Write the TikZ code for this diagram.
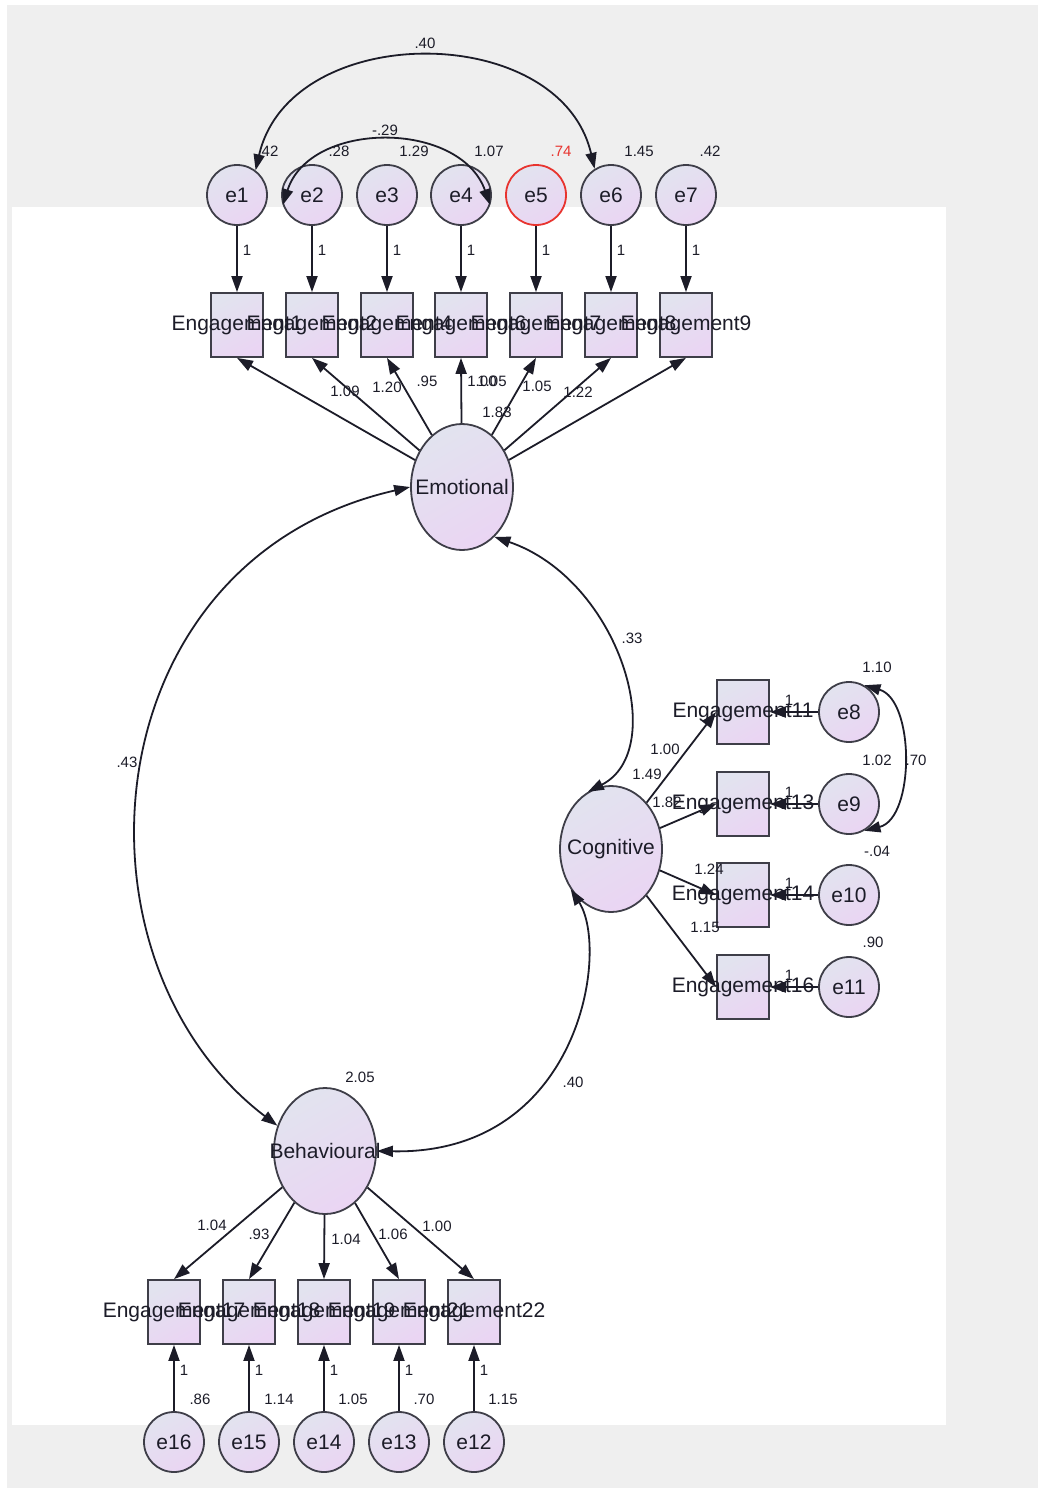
\documentclass[tikz,border=0pt]{standalone}
\usepackage{fontspec}
\setmainfont{Liberation Sans}
\usetikzlibrary{shapes.geometric,arrows.meta}
\definecolor{bgout}{HTML}{EFEFEF}
\definecolor{shA}{HTML}{E2E3EF}
\definecolor{shB}{HTML}{EAD5F3}
\definecolor{ink}{HTML}{1C1C28}
\definecolor{errred}{HTML}{E8342F}

\tikzset{
  shadedfill/.style={draw=ink!85, line width=0.9pt, top color=shA, bottom color=shB, shading angle=30},
  errc/.style={shadedfill, circle, minimum size=30pt, inner sep=0pt, font=\fontsize{10.5}{12}\selectfont, text=ink},
  obs/.style={shadedfill, rectangle, minimum width=26pt, minimum height=32pt, inner sep=0pt},
  lat/.style={shadedfill, ellipse, minimum width=51pt, minimum height=63pt, inner sep=0pt},
  txt/.style={font=\fontsize{10.5}{12}\selectfont, text=ink, inner sep=0pt},
  num/.style={font=\fontsize{7.5}{9}\selectfont, text=ink, inner sep=0pt},
  tip/.tip={Triangle[length=8pt,width=5.5pt]},
  arr/.style={draw=ink, line width=0.9pt, -tip},
  dbl/.style={draw=ink, line width=0.9pt, tip-tip},
}

\begin{document}
\begin{tikzpicture}[x=0.5pt,y=-0.5pt]
% canvas
\fill[white] (0,0) rectangle (1038,1488);
\fill[bgout] (7,5) rectangle (1038,1488);
\fill[white] (12,207) rectangle (946,1425);
\useasboundingbox (0,0) rectangle (1038,1488);

% ---- latent factors
\node[lat] (emo) at (462,487) {};
\node[lat] (cog) at (611,849) {};
\node[lat] (beh) at (325,1151) {};

% ---- emotional indicators and their errors
\foreach \i/\x in {1/237,2/312,3/387,4/461,5/536,6/611,7/686}{
  \node[obs] (t\i) at (\x,325) {};
}
\node[errc] (e1) at (237,195) {e1};
\node[errc] (e2) at (312,195) {e2};
\node[errc] (e3) at (387,195) {e3};
\node[errc] (e4) at (461,195) {e4};
\node[errc, draw=errred] (e5) at (536,195) {e5};
\node[errc] (e6) at (611,195) {e6};
\node[errc] (e7) at (686,195) {e7};

% ---- cognitive indicators and their errors
\foreach \i/\y in {1/712,2/804,3/895,4/987}{
  \node[obs] (r\i) at (743,\y) {};
}
\node[errc] (e8) at (849,712) {e8};
\node[errc] (e9) at (849,804) {e9};
\node[errc] (e10) at (849,895) {e10};
\node[errc] (e11) at (849,987) {e11};

% ---- behavioural indicators and their errors
\foreach \i/\x in {1/174,2/249,3/324,4/399,5/474}{
  \node[obs] (b\i) at (\x,1312) {};
}
\node[errc] (e16) at (174,1442) {e16};
\node[errc] (e15) at (249,1442) {e15};
\node[errc] (e14) at (324,1442) {e14};
\node[errc] (e13) at (399,1442) {e13};
\node[errc] (e12) at (474,1442) {e12};

% ---- factor names
\node[txt] (emoT) at (emo) {Emotional};
\node[txt] (cogT) at (cog) {Cognitive};
\node[txt] (behT) at (beh) {Behavioural};

% ---- indicator names
\node[txt] (tT1) at (t1) {Engagement1};
\node[txt] (tT2) at (t2) {Engagement2};
\node[txt] (tT3) at (t3) {Engagement4};
\node[txt] (tT4) at (t4) {Engagement6};
\node[txt] (tT5) at (t5) {Engagement7};
\node[txt] (tT6) at (t6) {Engagement8};
\node[txt] (tT7) at (t7) {Engagement9};
\node[txt] (rT1) at (r1) {Engagement11};
\node[txt] (rT2) at (r2) {Engagement13};
\node[txt] (rT3) at (r3) {Engagement14};
\node[txt] (rT4) at (r4) {Engagement16};
\node[txt] (bT1) at (b1) {Engagement17};
\node[txt] (bT2) at (b2) {Engagement18};
\node[txt] (bT3) at (b3) {Engagement19};
\node[txt] (bT4) at (b4) {Engagement21};
\node[txt] (bT5) at (b5) {Engagement22};

% ---- error paths (fixed at 1)
\foreach \i in {1,...,7}{
  \draw[arr] (e\i) -- (t\i);
}
\foreach \i/\x in {1/247,2/322,3/397,4/471,5/546,6/621,7/696}{
  \node[num] (one\i) at (\x,250) {1};
}
\draw[arr] (e8) -- (r1);
\draw[arr] (e9) -- (r2);
\draw[arr] (e10) -- (r3);
\draw[arr] (e11) -- (r4);
\foreach \i/\y in {1/700,2/792,3/883,4/975}{
  \node[num] (oneR\i) at (789,\y) {1};
}
\draw[arr] (e16) -- (b1);
\draw[arr] (e15) -- (b2);
\draw[arr] (e14) -- (b3);
\draw[arr] (e13) -- (b4);
\draw[arr] (e12) -- (b5);
\foreach \i/\x in {1/184,2/259,3/334,4/409,5/484}{
  \node[num] (oneB\i) at (\x,1370) {1};
}

% ---- loadings
\foreach \i in {1,...,7}{
  \draw[arr] (emo) -- (t\i.south);
}
\foreach \i in {1,...,4}{
  \draw[arr] (cog) -- (r\i.west);
}
\foreach \i in {1,...,5}{
  \draw[arr] (beh) -- (b\i.north);
}

% ---- covariances
\draw[dbl] (e1.53) .. controls (290,20) and (560,20) .. (e6.122);
\draw[dbl] (e2.-161) .. controls (310,120) and (460,120) .. (e4.-19);
\draw[dbl] (e8.60) .. controls (915,700) and (915,818) .. (e9.-60);
\draw[dbl] (emo.-57) .. controls (620,580) and (670,750) .. (cog.112);
\draw[dbl] (emo.180) .. controls (90,560) and (60,960) .. (beh.152);
\draw[dbl] (cog.-135) .. controls (610,950) and (580,1155) .. (beh.0);

% ---- estimates: covariances
\node[num] (c16) at (425,43) {.40};
\node[num] (c24) at (385,130) {-.29};
\node[num] (c89) at (916,760) {.70};
\node[num] (cEC) at (632,638) {.33};
\node[num] (cEB) at (127,762) {.43};
\node[num] (cCB) at (573,1082) {.40};

% ---- estimates: variances
\node[num] (v1) at (268,151) {.42};
\node[num] (v2) at (339,151) {.28};
\node[num] (v3) at (414,151) {1.29};
\node[num] (v4) at (489,151) {1.07};
\node[num, text=errred] (v5) at (561,151) {.74};
\node[num] (v6) at (639,151) {1.45};
\node[num] (v7) at (710,151) {.42};
\node[num] (v8) at (877,667) {1.10};
\node[num] (v9) at (877,760) {1.02};
\node[num] (v10) at (877,851) {-.04};
\node[num] (v11) at (873,942) {.90};
\node[num] (v16) at (200,1399) {.86};
\node[num] (v15) at (279,1399) {1.14};
\node[num] (v14) at (353,1399) {1.05};
\node[num] (v13) at (424,1399) {.70};
\node[num] (v12) at (503,1399) {1.15};
\node[num] (vEmo) at (497,412) {1.83};
\node[num] (vCog) at (647,774) {1.49};
\node[num] (vBeh) at (360,1077) {2.05};

% ---- estimates: loadings
\node[num] (l1) at (345,391) {1.09};
\node[num] (l2) at (387,387) {1.20};
\node[num] (l3) at (427,381) {.95};
\node[num] (l4) at (482,381) {1.00};
\node[num] (l5) at (492,381) {1.05};
\node[num] (l6) at (537,386) {1.05};
\node[num] (l7) at (578,392) {1.22};
\node[num] (m1) at (665,749) {1.00};
\node[num] (m2) at (667,802) {1.82};
\node[num] (m3) at (709,869) {1.24};
\node[num] (m4) at (705,927) {1.15};
\node[num] (n1) at (212,1225) {1.04};
\node[num] (n2) at (259,1234) {.93};
\node[num] (n3) at (346,1239) {1.04};
\node[num] (n4) at (393,1234) {1.06};
\node[num] (n5) at (437,1226) {1.00};
\end{tikzpicture}
\end{document}
